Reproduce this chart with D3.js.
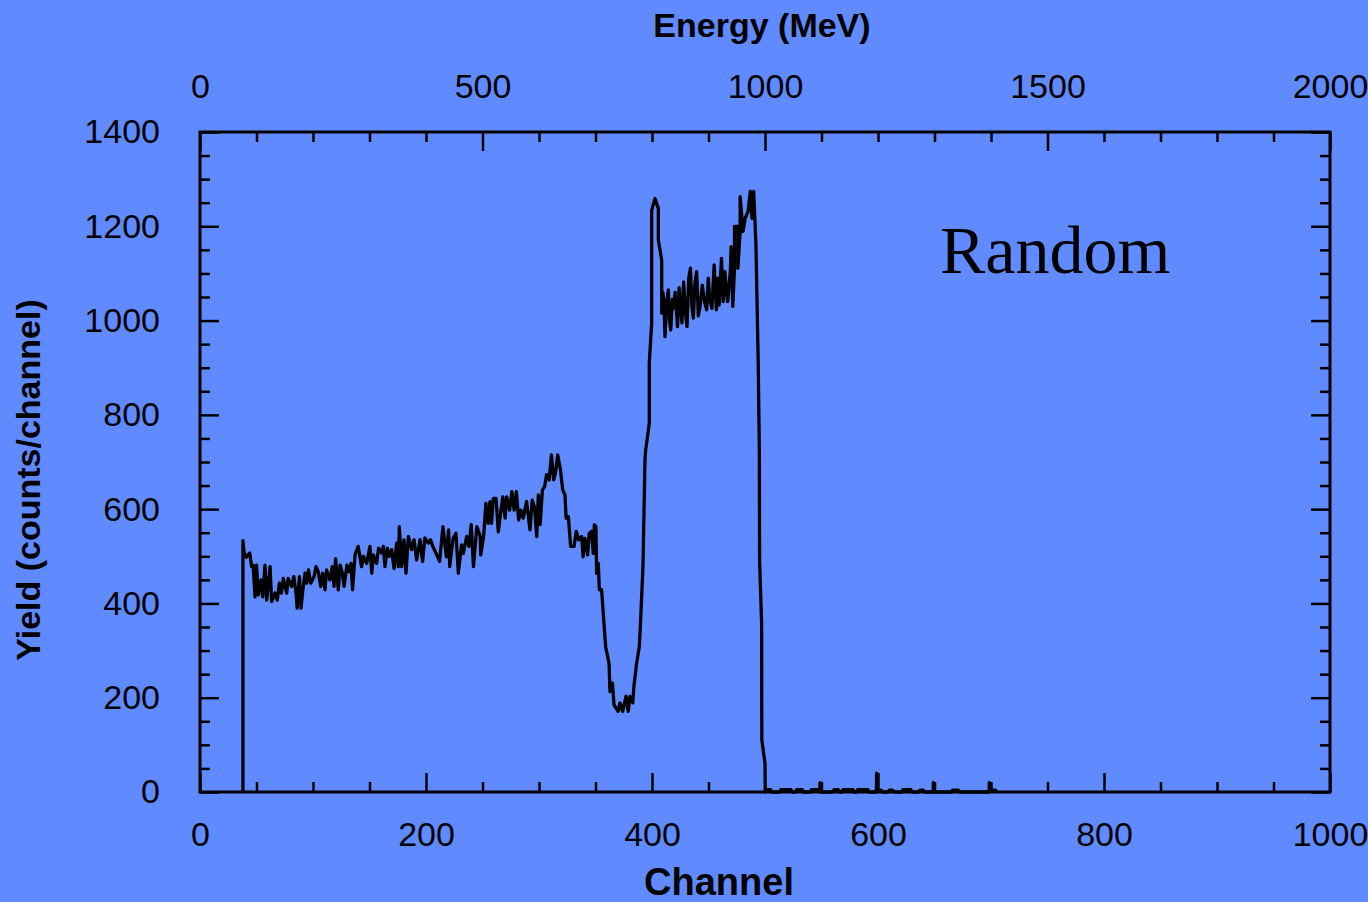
<!DOCTYPE html>
<html><head><meta charset="utf-8">
<script src="https://cdn.jsdelivr.net/npm/d3@7"></script>
<style>
html,body{margin:0;padding:0;background:#608AFF;}
svg{display:block;}
</style></head><body>
<svg id="chart" width="1368" height="902"></svg>
<script>
// ---- data ----
const channels = [
 38,38,39,41,43,44,45.7,47,48.7,50,51.6,54,55.5,57.5,59,62,63.4,66.4,68.4,70.2,72,73.7,76.7,78,81,83,85,86,88,89.4,91,93,94.4,96,98,
 101,102.7,104.7,106.8,108.6,110.6,112,115,117,118.6,120,122.4,124,126,127.5,130,132,133.6,135,137.2,140,143,144.5,147.5,150.4,152,153.4,156.3,158,160.8,162.2,163.7,165.8,167.6,169.6,171.7,174,175.5,176.4,178.5,180.5,182.3,184.4,187.3,189.4,191.7,194.7,197,199,
 202,204,206,209,212,215,218,220,221,224,226.5,228.6,231.5,233,236,238,240,242,245,248,248.4,251,253,255,256.6,258,259.6,262,264,266,268,270,271.4,274,276,278,280,282,284,286,289,292,294,296,298,299.4,
 301,303,305,306.7,309,311,313,314.5,316.6,319,321,323,324,326,328,331,333,335,337.7,339,340.7,343,344.5,346.6,348,349,350.4,351,352.5,353.4,355.4,359,362,362.8,365,366.4,370,371.7,374,377,379,380.5,383,384,386.4,388.8,390,392,393.8,
 394.4,397.6,397.6,399.7,399.7,402.7,405.6,405.6,408.6,408.6,409.6,410.6,411.5,413,414.5,415.5,416.6,418,419,420.5,422.6,424,425,426.5,428,429.5,431,432.5,434,435.3,436.6,438,439.5,441,442.5,444.5,446.5,448.4,449.8,451,453,455,457,458.2,459.4,461.5,463,464.5,466,467,469.3,470,471.5,473,473,476,476,478,478,480.5,482.5,485,487,488.5,490,491,492,494,495,
 495.2,497,497.2,500,500.2,
 502,505,506,513,514,523,524,527,528,533,534,540,541,545,548.5,548.7,549,560,561,565,566,568,569,578,579,581,582,591,592,598.5,598.8,599.2,603,604,609,610,613,614,621,622,629,630,636,637,640,641,648.8,649,649.3,665,666,671,672,698.3,698.5,698.8,704,705
];
const yieldCounts = [
 0,533,507,498,505,507,478,481,414,481,418,450,414,481,407,478,404,422,407,443,422,453,422,453,436,457,422,390,457,390,429,464,443,471,443,
 457,478,467,436,464,429,471,450,478,436,495,429,481,464,436,481,467,485,429,503,521,478,500,485,521,464,503,485,517,507,521,478,517,500,514,474,528,478,563,478,535,464,542,514,535,492,535,489,539,
 528,535,521,506,489,563,499,556,478,538,549,464,524,506,542,521,567,478,563,542,503,542,612,570,616,570,623,623,552,591,626,581,626,598,637,598,637,577,598,581,616,556,619,605,542,630,
 567,641,648,673,662,715,662,676,715,683,641,630,581,584,521,521,553,535,542,499,538,503,549,553,506,567,563,464,485,429,429,308,273,213,231,185,171,189,171,203,171,203,189,224,273,308,368,478,704,
 725,782,910,994,1234,1259,1238,1171,1128,1016,1060,1037,966,1040,1065,1000,980,1045,1026,1060,987,1070,1040,995,1082,1020,987,1090,1111,1030,1005,1080,1104,1010,1030,1075,1040,1023,1090,1047,1026,1118,1023,1090,1033,1132,1040,1104,1060,1040,1104,1157,1030,1111,1200,1200,1111,1189,1263,1189,1217,1231,1274,1217,1274,1217,1160,910,725,
 492,358,110,61,0,
 5,5,0,0,5,5,0,0,5,5,0,0,5,5,5,20,0,0,5,5,0,0,5,5,0,0,5,5,0,0,40,4,4,0,0,4,4,0,0,5,5,0,0,4,4,0,0,20,0,0,4,4,0,0,20,4,4,0
];
const channelTicks = [0, 200, 400, 600, 800, 1000];
const energyTicks = [0, 500, 1000, 1500, 2000];
const yieldTicks = [0, 200, 400, 600, 800, 1000, 1200, 1400];
const channelMinorTicks = [50,100,150,250,300,350,450,500,550,650,700,750,850,900,950];
const energyMinorTicks = [100,200,300,400,600,700,800,900,1100,1200,1300,1400,1600,1700,1800,1900];
const yieldMinorTicks = [50,100,150,250,300,350,450,500,550,650,700,750,850,900,950,1050,1100,1150,1250,1300,1350];
const xTitle = "Channel";
const x2Title = "Energy (MeV)";
const yTitle = "Yield (counts/channel)";
const annotation = "Random";

// ---- drawing ----
const svg = d3.select("#chart");
const L = 200, R = 1330, T = 132, B = 792;
const x = d3.scaleLinear().domain([0, 1000]).range([L, R]);
const xE = d3.scaleLinear().domain([0, 2000]).range([L, R]);
const y = d3.scaleLinear().domain([0, 1400]).range([B, T]);
const sans = "'Liberation Sans', Arial, Helvetica, sans-serif";

function styleAxis(g) {
  g.select(".domain").remove();
  g.selectAll(".tick line").attr("stroke", "#000").attr("stroke-width", 2.5);
  g.selectAll(".tick text").attr("fill", "#000").style("font-family", sans).style("font-size", "34px");
}

// bottom
svg.append("g").attr("transform", `translate(0,${B})`)
  .call(d3.axisBottom(x).tickValues(channelMinorTicks).tickSize(-10).tickFormat("")).call(styleAxis);
svg.append("g").attr("transform", `translate(0,${B})`)
  .call(d3.axisBottom(x).tickValues(channelTicks).tickSize(-19).tickPadding(30).tickFormat(d3.format("d"))).call(styleAxis);
// top
svg.append("g").attr("transform", `translate(0,${T})`)
  .call(d3.axisTop(xE).tickValues(energyMinorTicks).tickSize(-10).tickFormat("")).call(styleAxis);
svg.append("g").attr("transform", `translate(0,${T})`)
  .call(d3.axisTop(xE).tickValues(energyTicks).tickSize(-19).tickPadding(34).tickFormat(d3.format("d"))).call(styleAxis);
// left
svg.append("g").attr("transform", `translate(${L},0)`)
  .call(d3.axisLeft(y).tickValues(yieldMinorTicks).tickSize(-10).tickFormat("")).call(styleAxis);
svg.append("g").attr("transform", `translate(${L},0)`)
  .call(d3.axisLeft(y).tickValues(yieldTicks).tickSize(-19).tickPadding(40).tickFormat(d3.format("d"))).call(styleAxis);
// right
svg.append("g").attr("transform", `translate(${R},0)`)
  .call(d3.axisRight(y).tickValues(yieldMinorTicks).tickSize(-10).tickFormat("")).call(styleAxis);
svg.append("g").attr("transform", `translate(${R},0)`)
  .call(d3.axisRight(y).tickValues(yieldTicks).tickSize(-19).tickFormat("")).call(styleAxis);

// data line
const pts = channels.map((c, i) => [c, yieldCounts[i]]);
svg.append("path")
  .datum(pts)
  .attr("fill", "none")
  .attr("stroke", "#000")
  .attr("stroke-width", 3.3)
  .attr("stroke-linejoin", "round")
  .attr("d", d3.line().x(d => x(d[0])).y(d => y(d[1])));

// frame
svg.append("rect").attr("x", L).attr("y", T).attr("width", R - L).attr("height", B - T)
  .attr("fill", "none").attr("stroke", "#000").attr("stroke-width", 3);

// titles
svg.append("text").attr("x", 762).attr("y", 37).attr("text-anchor", "middle")
  .style("font-family", sans).style("font-size", "34px").style("font-weight", "bold").text(x2Title);
svg.append("text").attr("x", 719).attr("y", 895).attr("text-anchor", "middle")
  .style("font-family", sans).style("font-size", "38px").style("font-weight", "bold").text(xTitle);
svg.append("text").attr("transform", "translate(40,480) rotate(-90)").attr("text-anchor", "middle")
  .style("font-family", sans).style("font-size", "34px").style("font-weight", "bold").text(yTitle);
svg.append("text").attr("x", 940).attr("y", 273)
  .style("font-family", "'Liberation Serif', 'Times New Roman', serif").style("font-size", "68px").text(annotation);
</script>
</body></html>
